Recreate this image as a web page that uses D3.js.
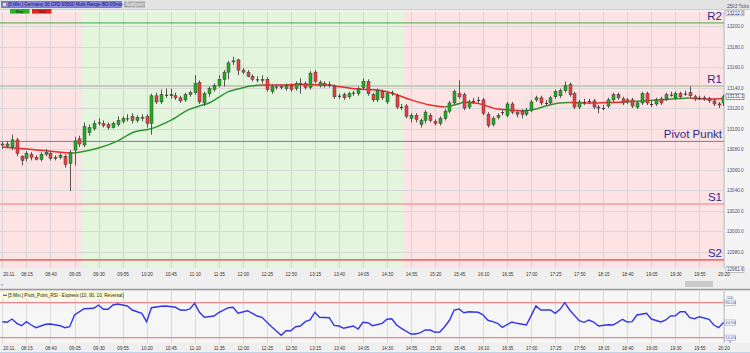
<!DOCTYPE html>
<html>
<head>
<meta charset="utf-8">
<script src="https://d3js.org/d3.v7.min.js"></script>
<style>
  body { margin: 0; background: #ececec; }
  svg { display: block; font-family: "Liberation Sans", Arial, sans-serif; }
</style>
</head>
<body>
<div id="chartVis"></div>
<script>
// ---- data ----
var timeLabels = ["20.11.", "08:15", "08:40", "09:05", "09:30", "09:55", "10:20", "10:45", "11:10", "11:35",
  "12:00", "12:25", "12:50", "13:15", "13:40", "14:05", "14:30", "14:55", "15:20", "15:45", "16:10",
  "16:35", "17:00", "17:25", "17:50", "18:15", "18:40", "19:05", "19:30", "19:55", "20:20"];

var priceTicks = [12980, 13000, 13020, 13040, 13060, 13080, 13100, 13120, 13140, 13160, 13180, 13200];

// 5 min candles, [open, high, low, close]
var candles = [
  [13085, 13087, 13080, 13084], [13083, 13088, 13081, 13085], [13082, 13094, 13079, 13089], [13089, 13091, 13073, 13076],
  [13073, 13074, 13064, 13069], [13071, 13078, 13068, 13076], [13075, 13077, 13069, 13072], [13072, 13074, 13069, 13070],
  [13070, 13077, 13068, 13075], [13075, 13080, 13073, 13077], [13076, 13078, 13069, 13071], [13071, 13074, 13069, 13072],
  [13072, 13076, 13070, 13074], [13073, 13075, 13062, 13065], [13066, 13079, 13039, 13077], [13079, 13092, 13064, 13088],
  [13090, 13093, 13082, 13085], [13084, 13106, 13082, 13102], [13096, 13104, 13093, 13101], [13100, 13108, 13098, 13105],
  [13106, 13110, 13103, 13106], [13105, 13108, 13101, 13103], [13104, 13106, 13099, 13101], [13101, 13107, 13100, 13105],
  [13104, 13112, 13102, 13108], [13107, 13112, 13105, 13110], [13110, 13114, 13107, 13110], [13112, 13115, 13105, 13108],
  [13108, 13113, 13106, 13111], [13111, 13114, 13107, 13110], [13112, 13114, 13101, 13105], [13105, 13134, 13094, 13132],
  [13132, 13135, 13124, 13126], [13126, 13138, 13124, 13133], [13133, 13139, 13130, 13133], [13133, 13139, 13129, 13132],
  [13132, 13135, 13128, 13130], [13130, 13132, 13125, 13127], [13128, 13135, 13126, 13133], [13133, 13137, 13131, 13135],
  [13135, 13152, 13133, 13144], [13145, 13147, 13124, 13126], [13125, 13136, 13122, 13134], [13134, 13141, 13131, 13139],
  [13138, 13144, 13136, 13142], [13142, 13152, 13140, 13148], [13148, 13157, 13141, 13155], [13155, 13166, 13148, 13164],
  [13165, 13170, 13162, 13166], [13167, 13168, 13152, 13157], [13157, 13159, 13153, 13155], [13155, 13157, 13150, 13151],
  [13151, 13153, 13146, 13148], [13148, 13151, 13145, 13148], [13148, 13152, 13144, 13147], [13148, 13150, 13136, 13138],
  [13136, 13143, 13134, 13141], [13141, 13143, 13138, 13141], [13141, 13143, 13138, 13140], [13139, 13144, 13137, 13142],
  [13142, 13144, 13136, 13138], [13139, 13146, 13137, 13144], [13144, 13149, 13134, 13143], [13144, 13146, 13138, 13140],
  [13140, 13156, 13138, 13154], [13155, 13157, 13144, 13146], [13142, 13147, 13140, 13145], [13144, 13146, 13140, 13142],
  [13143, 13146, 13140, 13143], [13141, 13143, 13129, 13131], [13132, 13134, 13129, 13132], [13133, 13135, 13128, 13130],
  [13131, 13136, 13129, 13134], [13135, 13137, 13132, 13135], [13134, 13141, 13132, 13139], [13140, 13149, 13138, 13146],
  [13146, 13148, 13132, 13134], [13133, 13135, 13126, 13128], [13128, 13139, 13126, 13137], [13136, 13138, 13128, 13130],
  [13126, 13136, 13124, 13134], [13135, 13137, 13132, 13135], [13132, 13134, 13119, 13121], [13121, 13124, 13118, 13121],
  [13122, 13124, 13110, 13112], [13110, 13115, 13106, 13113], [13113, 13115, 13106, 13109], [13104, 13110, 13101, 13108],
  [13108, 13118, 13105, 13116], [13113, 13115, 13106, 13108], [13107, 13109, 13103, 13105], [13105, 13112, 13103, 13110],
  [13110, 13119, 13108, 13117], [13117, 13127, 13115, 13125], [13125, 13138, 13123, 13136], [13134, 13147, 13129, 13131],
  [13133, 13135, 13118, 13120], [13121, 13128, 13119, 13126], [13127, 13130, 13124, 13127], [13128, 13131, 13125, 13128],
  [13128, 13130, 13113, 13115], [13114, 13116, 13101, 13103], [13104, 13112, 13102, 13110], [13111, 13115, 13109, 13113],
  [13116, 13118, 13113, 13116], [13113, 13126, 13111, 13124], [13124, 13126, 13114, 13116], [13116, 13118, 13111, 13114],
  [13117, 13119, 13110, 13114], [13114, 13120, 13112, 13118], [13118, 13128, 13116, 13126], [13128, 13132, 13126, 13130],
  [13130, 13132, 13123, 13125], [13125, 13128, 13122, 13125], [13125, 13132, 13123, 13130], [13131, 13138, 13129, 13136],
  [13132, 13139, 13130, 13137], [13137, 13146, 13135, 13142], [13143, 13145, 13131, 13133], [13134, 13136, 13119, 13121],
  [13121, 13128, 13119, 13126], [13126, 13129, 13123, 13126], [13127, 13129, 13124, 13127], [13127, 13129, 13119, 13121],
  [13121, 13123, 13115, 13120], [13120, 13123, 13118, 13120], [13122, 13130, 13120, 13128], [13128, 13135, 13126, 13133],
  [13133, 13135, 13128, 13130], [13129, 13131, 13123, 13125], [13128, 13130, 13124, 13126], [13128, 13130, 13120, 13122],
  [13121, 13127, 13119, 13125], [13125, 13136, 13123, 13134], [13134, 13136, 13123, 13125], [13124, 13127, 13121, 13124],
  [13124, 13130, 13122, 13128], [13129, 13131, 13123, 13125], [13129, 13135, 13127, 13133], [13133, 13136, 13131, 13133],
  [13130, 13136, 13128, 13134], [13134, 13136, 13129, 13131], [13134, 13137, 13132, 13134], [13135, 13141, 13130, 13132],
  [13131, 13133, 13127, 13129], [13130, 13132, 13128, 13130], [13130, 13132, 13127, 13129], [13129, 13131, 13125, 13127],
  [13127, 13129, 13122, 13124], [13124, 13126, 13120, 13123], [13125, 13133, 13122, 13131]
];

// moving average line [bar, value] and where its colour flips
var maPoints = [[0, 13082], [5, 13080], [10, 13078], [14, 13076], [16, 13077], [20, 13081], [24, 13088], [27, 13096],
  [31, 13100], [35, 13108], [39, 13119], [41, 13122], [43, 13125], [45, 13130.5], [47, 13136], [49, 13138.5],
  [51, 13141], [54, 13142.5], [58, 13142.5], [62, 13143], [68, 13142.5], [70, 13141], [74, 13138.5], [78, 13137.5],
  [80, 13136], [85, 13128], [89, 13123], [92, 13121], [94, 13123], [96, 13126], [99, 13124.5], [103, 13119],
  [108, 13117.5], [110, 13118], [113, 13122], [116, 13125], [118, 13125.5], [122, 13125], [126, 13125.5],
  [129, 13125.8], [133, 13126.8], [137, 13128], [140, 13129], [143, 13129.7], [146, 13128.8], [150, 13129]];
var maTrend = [[0, "down"], [14, "up"], [54, "down"], [92, "up"], [96, "down"], [108, "up"], [118, "down"], [129, "up"], [143, "down"]];

// pivot levels
var levelNames = ["R2", "R1", "Pivot Punkt", "S1", "S2"];
var levelValues = [13203, 13141.5, 13087.5, 13026.5, 12972];

// background sessions [fromBar, toBar, side]
var sessions = [[-0.5, 16.5, "short"], [16.5, 83.5, "long"], [83.5, 151, "short"]];

// lower indicator [bar, value]
var rsiPoints = [[0, 46.6], [1, 45.2], [2, 52.7], [3, 42.9], [4, 37.4], [5, 46.6], [6, 39.0], [7, 32.9], [9, 40.6],
  [10, 41.3], [12, 37.4], [13, 32.9], [14, 35.1], [15, 61.9], [17, 76.3], [19, 77.2], [20, 84.7], [21, 74.9],
  [22, 74.9], [23, 84.7], [24, 87.0], [26, 82.5], [27, 73.3], [29, 65.8], [30, 46.6], [31, 78.6], [33, 81.8],
  [34, 82.5], [36, 79.5], [37, 73.3], [38, 72.6], [39, 75.6], [40, 88.6], [41, 68.1], [42, 56.6], [44, 59.6],
  [45, 67.1], [47, 78.6], [48, 79.5], [49, 65.8], [51, 71.7], [53, 59.6], [54, 56.6], [56, 35.1], [58, 15.5],
  [59, 26.0], [60, 26.0], [61, 35.1], [62, 36.7], [63, 46.6], [64, 50.5], [65, 68.1], [66, 56.6], [68, 55.7],
  [69, 38.3], [70, 36.7], [71, 31.5], [73, 36.7], [74, 29.9], [75, 45.2], [76, 44.3], [77, 37.4], [79, 42.9],
  [80, 52.1], [81, 53.4], [82, 39.0], [83, 31.5], [85, 18.5], [86, 18.5], [87, 21.4], [88, 27.6], [89, 27.6],
  [90, 22.3], [91, 23.0], [92, 35.1], [93, 49.8], [94, 73.3], [95, 75.6], [96, 67.1], [97, 69.4], [99, 68.1],
  [100, 61.9], [101, 49.8], [102, 46.6], [103, 42.9], [104, 33.8], [106, 45.9], [107, 42.9], [109, 39.0],
  [110, 60.3], [111, 82.5], [112, 73.3], [114, 73.3], [115, 65.8], [116, 74.9], [117, 90.0], [118, 73.3],
  [120, 48.9], [121, 45.2], [122, 50.5], [123, 45.9], [124, 36.7], [126, 39.7], [127, 39.0], [128, 45.2],
  [129, 52.1], [130, 45.9], [131, 46.6], [132, 61.9], [134, 65.8], [135, 52.7], [137, 45.9], [138, 50.5],
  [139, 59.6], [140, 60.3], [141, 69.4], [142, 69.4], [143, 55.7], [144, 53.4], [145, 58.0], [147, 52.1],
  [148, 39.0], [149, 32.9], [150, 44.56]];
var rsiLevels = [90, 10];

// ---- layout ----
var width = 750;
var height = 353;
var plot = { left: 0, right: 724, top: 12, bottom: 268 };
var lower = { top: 291, bottom: 343 };
var fontSmall = 4.6;

var svg = d3.select("#chartVis")
  .append("svg")
  .attr("width", width)
  .attr("height", height);

var x = d3.scaleLinear().domain([0, 150]).range([2.4, 723.45]);
var y = d3.scaleLinear().domain([12980, 13200]).range([251.7, 26]);
var yRsi = d3.scaleLinear().domain([10, 90]).range([337.7, 302.7]);
var gridBars = d3.range(0, 151, 5);

// backgrounds
svg.append("rect").attr("width", width).attr("height", height).attr("fill", "#efefef");
svg.append("rect").attr("x", 0).attr("y", 0).attr("width", width).attr("height", 10).attr("fill", "#e3e3e3");
svg.append("line").attr("x1", 0).attr("x2", width).attr("y1", 9.5).attr("y2", 9.5).attr("stroke", "#cfcfcf");
svg.append("rect").attr("x", plot.right).attr("y", 10).attr("width", width - plot.right).attr("height", plot.bottom - 10).attr("fill", "#f4f4f4");
svg.append("rect").attr("x", 0).attr("y", lower.top).attr("width", width).attr("height", lower.bottom - lower.top).attr("fill", "#f6f6f6");

var defs = svg.append("defs");
defs.append("clipPath").attr("id", "mainClip").append("rect")
  .attr("x", plot.left).attr("y", plot.top).attr("width", plot.right - plot.left).attr("height", plot.bottom - plot.top);
defs.append("clipPath").attr("id", "lowClip").append("rect")
  .attr("x", plot.left).attr("y", lower.top).attr("width", plot.right - plot.left).attr("height", lower.bottom - lower.top);

var main = svg.append("g").attr("clip-path", "url(#mainClip)");

main.selectAll("rect.sess").data(sessions).enter().append("rect")
  .attr("x", function (d) { return x(d[0]); })
  .attr("width", function (d) { return x(d[1]) - x(d[0]); })
  .attr("y", plot.top)
  .attr("height", plot.bottom - plot.top)
  .attr("fill", function (d) { return d[2] == "long" ? "#e3f5dd" : "#fde3e3"; });

// grid
main.selectAll("line.vgrid").data(gridBars).enter().append("line")
  .attr("x1", function (d) { return Math.round(x(d)) + 0.5; })
  .attr("x2", function (d) { return Math.round(x(d)) + 0.5; })
  .attr("y1", plot.top).attr("y2", plot.bottom)
  .attr("stroke", "#d5d5d5").attr("stroke-width", 1);
main.selectAll("line.hgrid").data(priceTicks).enter().append("line")
  .attr("x1", plot.left).attr("x2", plot.right)
  .attr("y1", function (d) { return Math.round(y(d)) + 0.5; })
  .attr("y2", function (d) { return Math.round(y(d)) + 0.5; })
  .attr("stroke", "#d8d8d8").attr("stroke-width", 1);

// pivot levels
var levelColor = { "R2": "#45aa45", "R1": "#c9c9b8", "Pivot Punkt": "#7272e2", "S1": "#f07b7b", "S2": "#ef7070" };
var levelWidth = { "R2": 1, "R1": 2, "Pivot Punkt": 1, "S1": 1.2, "S2": 1.6 };
levelNames.forEach(function (name, i) {
  main.append("line")
    .attr("x1", plot.left).attr("x2", plot.right)
    .attr("y1", y(levelValues[i])).attr("y2", y(levelValues[i]))
    .attr("stroke", levelColor[name]).attr("stroke-width", levelWidth[name]);
  main.append("text")
    .attr("x", 722).attr("y", y(levelValues[i]) - 3)
    .attr("text-anchor", "end")
    .attr("font-size", 11.5)
    .attr("fill", "#2b2b8e")
    .text(name);
});

// moving average, coloured by trend
function trendAt(bar) {
  var t = "down";
  maTrend.forEach(function (s) { if (bar >= s[0]) t = s[1]; });
  return t;
}
var runs = [];
for (var i = 0; i < maPoints.length - 1; i++) {
  var t = trendAt(maPoints[i][0]);
  if (!runs.length || runs[runs.length - 1].t != t) runs.push({ t: t, pts: [maPoints[i]] });
  runs[runs.length - 1].pts.push(maPoints[i + 1]);
}
var maLine = d3.line().x(function (d) { return x(d[0]); }).y(function (d) { return y(d[1]); }).curve(d3.curveMonotoneX);
main.selectAll("path.ma").data(runs).enter().append("path")
  .attr("d", function (d) { return maLine(d.pts); })
  .attr("fill", "none")
  .attr("stroke", function (d) { return d.t == "up" ? "#2f962f" : "#e82a2a"; })
  .attr("stroke-width", 1.5);

// candles
main.selectAll("line.wick").data(candles).enter().append("line")
  .attr("x1", function (d, i) { return Math.round(x(i)) + 0.5; })
  .attr("x2", function (d, i) { return Math.round(x(i)) + 0.5; })
  .attr("y1", function (d) { return y(d[1]); })
  .attr("y2", function (d) { return y(d[2]); })
  .attr("stroke", "#555").attr("stroke-width", 1);
main.selectAll("rect.body").data(candles).enter().append("rect")
  .attr("x", function (d, i) { return Math.round(x(i)) - 1; })
  .attr("width", 3)
  .attr("y", function (d) { return y(Math.max(d[0], d[3])); })
  .attr("height", function (d) { return Math.max(1, Math.abs(y(d[0]) - y(d[3]))); })
  .attr("fill", function (d) { return d[3] > d[0] ? "#1fae1f" : (d[3] < d[0] ? "#ee3d3d" : "#333"); })
  .attr("stroke", function (d) { return d[3] == d[0] ? "none" : "#3d3d3d"; })
  .attr("stroke-width", 0.5);

// right price axis
svg.append("line").attr("x1", plot.right + 0.5).attr("x2", plot.right + 0.5).attr("y1", 10).attr("y2", plot.bottom).attr("stroke", "#d0d0d0");
var axisR = svg.append("g")
  .attr("transform", "translate(" + (plot.right + 2) + ",0)")
  .call(d3.axisRight(y).tickValues(priceTicks).tickFormat(d3.format(".1f")).tickSize(0).tickPadding(1));
axisR.select(".domain").remove();
axisR.selectAll("text").attr("font-size", fontSmall).attr("fill", "#4d4d72");

function priceBox(val, yy, bold) {
  svg.append("rect").attr("x", 726).attr("y", yy - 2.8).attr("width", 18).attr("height", 5.6)
    .attr("fill", "#fff").attr("stroke", bold ? "#555" : "#999").attr("stroke-width", 0.6);
  svg.append("text").attr("x", 727).attr("y", yy + 1.6).attr("font-size", fontSmall)
    .attr("fill", "#2b2b6e").text(d3.format(".1f")(val));
}
svg.append("text").attr("x", 727).attr("y", 7.8).attr("font-size", fontSmall).attr("fill", "#4d4d72").text("2503 Ticks");
priceBox(13212.0, 13, false);
priceBox(candles[candles.length - 1][3] + 0.1, y(candles[candles.length - 1][3] + 0.1), true);
priceBox(12961.6, 269.5, false);

// time axis under the price pane
function timeAxis(yPos) {
  var g = svg.append("g")
    .attr("transform", "translate(0," + yPos + ")")
    .call(d3.axisBottom(x).tickValues(gridBars)
      .tickFormat(function (d, i) { return timeLabels[i]; })
      .tickSize(0).tickPadding(5));
  g.select(".domain").remove();
  g.selectAll("text").attr("font-size", fontSmall).attr("fill", "#333");
  g.selectAll("text").filter(function (d) { return d == 0; }).attr("text-anchor", "start").attr("x", 0.3);
  return g;
}
timeAxis(plot.bottom);

// scrollbar thumb and separator
svg.append("rect").attr("x", 685).attr("y", 281).attr("width", 28).attr("height", 6).attr("fill", "#c9c9c9");
svg.append("text").attr("x", 1).attr("y", 286).attr("font-size", 6).attr("fill", "#555").text("‹");
svg.append("line").attr("x1", 0).attr("x2", width).attr("y1", 289.5).attr("y2", 289.5).attr("stroke", "#9a9a9a").attr("stroke-width", 1.5);

// lower pane
var low = svg.append("g").attr("clip-path", "url(#lowClip)");
low.selectAll("line.vgrid").data(gridBars).enter().append("line")
  .attr("x1", function (d) { return Math.round(x(d)) + 0.5; })
  .attr("x2", function (d) { return Math.round(x(d)) + 0.5; })
  .attr("y1", lower.top).attr("y2", lower.bottom)
  .attr("stroke", "#dadada");
low.selectAll("line.lvl").data(rsiLevels).enter().append("line")
  .attr("x1", plot.left).attr("x2", plot.right)
  .attr("y1", function (d) { return yRsi(d); })
  .attr("y2", function (d) { return yRsi(d); })
  .attr("stroke", "#f08585").attr("stroke-width", 1.2);
low.append("path")
  .datum(rsiPoints)
  .attr("d", d3.line().x(function (d) { return x(d[0]); }).y(function (d) { return yRsi(d[1]); }))
  .attr("fill", "none")
  .attr("stroke", "#3434ec")
  .attr("stroke-width", 1.4);

svg.append("line").attr("x1", plot.right + 0.5).attr("x2", plot.right + 0.5).attr("y1", lower.top).attr("y2", lower.bottom).attr("stroke", "#d0d0d0");
function rsiBox(val, yy) {
  svg.append("rect").attr("x", 724.5).attr("y", yy - 2.6).attr("width", 11).attr("height", 5.2)
    .attr("fill", "#fff").attr("stroke", "#8a8ab8").attr("stroke-width", 0.5);
  svg.append("text").attr("x", 725.3).attr("y", yy + 1.6).attr("font-size", 4.2)
    .attr("fill", "#3434a0").text(d3.format(".2f")(val));
}
svg.append("text").attr("x", 727).attr("y", 298.5).attr("font-size", 3.6).attr("fill", "#555").text("100");
rsiBox(rsiLevels[0], yRsi(rsiLevels[0]));
rsiBox(rsiPoints[rsiPoints.length - 1][1], yRsi(rsiPoints[rsiPoints.length - 1][1]));
rsiBox(rsiLevels[1], yRsi(rsiLevels[1]));
svg.append("text").attr("x", 729).attr("y", 343).attr("font-size", 3.6).attr("fill", "#555").text("0");

// indicator label
svg.append("rect").attr("x", 1).attr("y", 292).attr("width", 122).attr("height", 6.5).attr("fill", "#fdfbd0");
svg.append("line").attr("x1", 3).attr("x2", 7).attr("y1", 295.3).attr("y2", 295.3).attr("stroke", "#3434ec").attr("stroke-width", 1);
svg.append("text").attr("x", 8).attr("y", 297).attr("font-size", fontSmall).attr("fill", "#222")
  .text("[5 Min.] Pivot_Point_RSI - Express  (10, 90, 10, Reversal)");

timeAxis(lower.bottom).selectAll("text").attr("dy", "0.5em");
svg.append("line").attr("x1", 0).attr("x2", width).attr("y1", 352.5).attr("y2", 352.5).attr("stroke", "#bcd6f0");

// header widgets
svg.append("rect").attr("x", 1.5).attr("y", 1.5).attr("width", 120).attr("height", 6).attr("fill", "#8787e4").attr("stroke", "#4040b0").attr("stroke-width", 0.5);
svg.append("rect").attr("x", 2.5).attr("y", 2.5).attr("width", 4).attr("height", 4).attr("fill", "#d8d8f0").attr("stroke", "#555").attr("stroke-width", 0.4);
svg.append("text").attr("x", 8).attr("y", 6.2).attr("font-size", fontSmall).attr("fill", "#15155e")
  .text("[5 Min.] Germany 30 CFD    99500 Multi-Range-BO-05min");
svg.append("rect").attr("x", 124).attr("y", 1.5).attr("width", 21).attr("height", 6).attr("fill", "#a9a9a9");
svg.append("text").attr("x", 125.5).attr("y", 6.2).attr("font-size", fontSmall).attr("fill", "#f4f4f4").text("Analysen");

var buttons = [["Buy", 10, "#26b326"], ["Sell", 32, "#e02222"]];
buttons.forEach(function (b) {
  svg.append("rect").attr("x", b[1]).attr("y", 9).attr("width", 19.5).attr("height", 4.6).attr("fill", b[2]);
  svg.append("text").attr("x", b[1] + 9.75).attr("y", 12.7).attr("text-anchor", "middle")
    .attr("font-size", 4).attr("fill", "#1b1b1b").text(b[0]);
});
</script>
</body>
</html>
